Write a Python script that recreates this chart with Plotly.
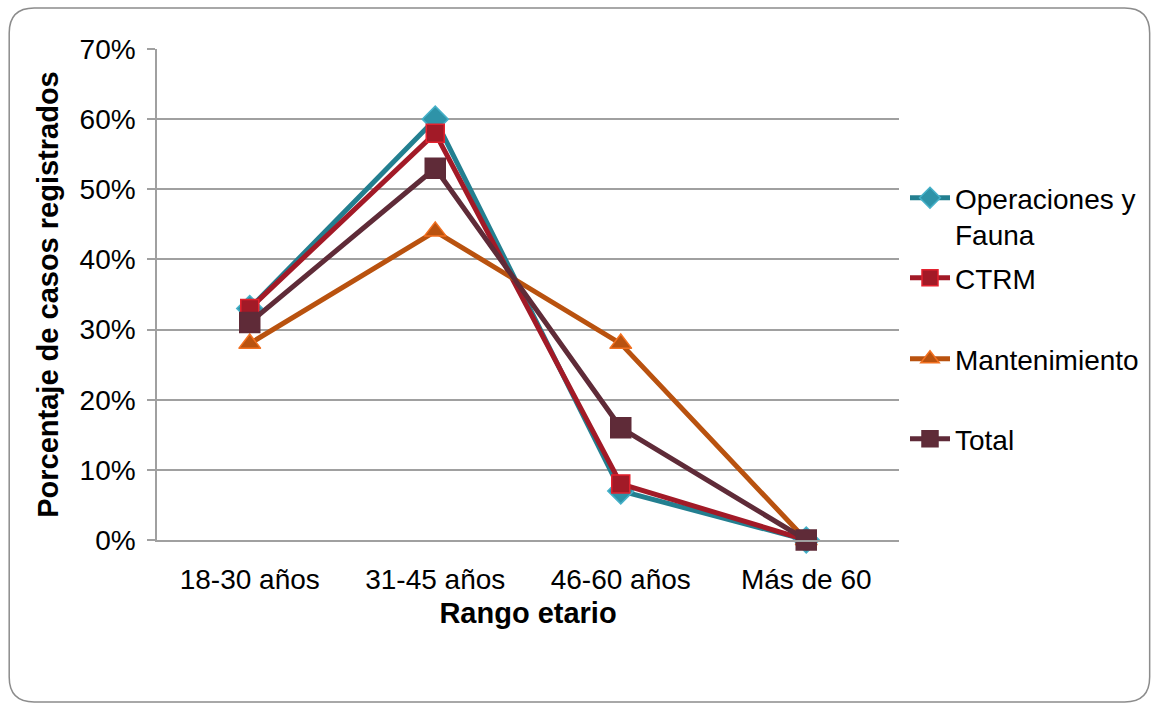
import plotly.graph_objects as go

categories = ["18-30 años", "31-45 años", "46-60 años", "Más de 60"]
operaciones = [0.33, 0.60, 0.07, 0.0]
ctrm = [0.33, 0.58, 0.08, 0.0]
mantenimiento = [0.28, 0.44, 0.28, 0.0]
total = [0.31, 0.53, 0.16, 0.0]
y_ticks = [0, 0.1, 0.2, 0.3, 0.4, 0.5, 0.6, 0.7]

W, H = 1155, 704
L, R, T, B = 157, 900, 49, 540
pw, ph = R - L, B - T

FONT = "Arial, Liberation Sans, sans-serif"
FS = 28

series = [
    ("Operaciones y<br>Fauna", operaciones, "#237F90", "diamond", "#2E93A8", "#45B0C8", 20),
    ("CTRM", ctrm, "#A21A27", "square", "#A21A27", "#E3222F", 18),
    ("Mantenimiento", mantenimiento, "#B9520F", "triangle-up", "#B9520F", "#F27020", 19),
    ("Total", total, "#5F2B38", "square", "#5F2B38", "#5F2B38", 20),
]
legend_names = ["legend", "legend2", "legend3", "legend4"]
legend_centers = [216, 278, 359, 439]


def px_x(p):
    return (p - L) / pw


def px_y(p):
    return (B - p) / ph


fig = go.Figure()
for i, (name, vals, lc, sym, mc, mlc, ms) in enumerate(series):
    fig.add_trace(go.Scatter(
        x=categories, y=vals, name=name, mode="lines+markers",
        line=dict(color=lc, width=5),
        marker=dict(symbol=sym, size=ms, color=mc, line=dict(color=mlc, width=1.5)),
        legend=legend_names[i], cliponaxis=False, hoverinfo="skip",
    ))

x0, x1, yt, yb = 9, 1151, 8, 702
r = 25
path = (
    f"M {px_x(x0 + r)},{px_y(yt)} L {px_x(x1 - r)},{px_y(yt)} "
    f"Q {px_x(x1)},{px_y(yt)} {px_x(x1)},{px_y(yt + r)} "
    f"L {px_x(x1)},{px_y(yb - r)} Q {px_x(x1)},{px_y(yb)} {px_x(x1 - r)},{px_y(yb)} "
    f"L {px_x(x0 + r)},{px_y(yb)} Q {px_x(x0)},{px_y(yb)} {px_x(x0)},{px_y(yb - r)} "
    f"L {px_x(x0)},{px_y(yt + r)} Q {px_x(x0)},{px_y(yt)} {px_x(x0 + r)},{px_y(yt)} Z"
)

legend_layout = {}
for i, ln in enumerate(legend_names):
    legend_layout[ln] = dict(
        x=px_x(905), xanchor="left", y=px_y(legend_centers[i]), yanchor="middle",
        font=dict(family=FONT, size=FS, color="black"),
        itemwidth=40, valign="top",
        bgcolor="rgba(0,0,0,0)",
    )

fig.update_layout(
    width=W, height=H,
    margin=dict(l=L, r=W - R, t=T, b=H - B),
    paper_bgcolor="white", plot_bgcolor="white",
    font=dict(family=FONT, size=FS, color="black"),
    showlegend=True,
    shapes=[dict(type="path", xref="paper", yref="paper", path=path,
                 line=dict(color="#8C8C8C", width=1.5), layer="below")],
    xaxis=dict(
        type="category", range=[-0.5, 3.5], showgrid=False,
        showline=True, linecolor="#A0A0A0", linewidth=1.5,
        ticks="", tickfont=dict(family=FONT, size=FS), ticklabelstandoff=14,
        title=dict(text="<b>Rango etario</b>", font=dict(family=FONT, size=FS + 1), standoff=8),
        fixedrange=True,
    ),
    yaxis=dict(
        range=[0, 0.7], tickvals=y_ticks, tickformat=".0%",
        showgrid=True, gridcolor="#A0A0A0", gridwidth=1.5,
        showline=True, linecolor="#A0A0A0", linewidth=1.5,
        ticks="outside", ticklen=8, tickcolor="#A0A0A0", tickwidth=1.5,
        tickfont=dict(family=FONT, size=FS), ticklabelstandoff=6,
        title=dict(text="<b>Porcentaje de casos registrados</b>", font=dict(family=FONT, size=FS + 1), standoff=12),
        zeroline=False, fixedrange=True,
    ),
    **legend_layout,
)

fig.write_html("out.html")
